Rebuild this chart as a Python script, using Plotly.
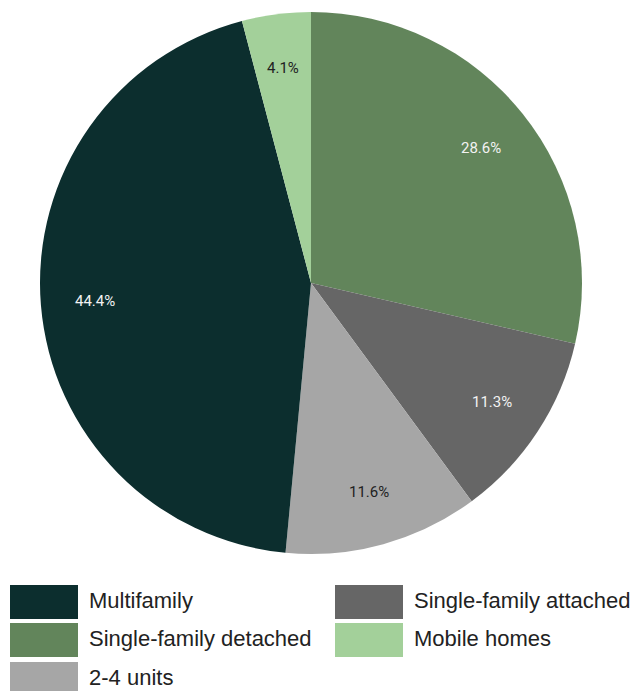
import math
import plotly.graph_objects as go

W, H = 636, 691

categories = ["Single-family detached", "Single-family attached", "2-4 units", "Multifamily", "Mobile homes"]
values = [28.6, 11.3, 11.6, 44.4, 4.1]
colors = ["#62855b", "#666666", "#a6a6a6", "#0c2e2e", "#a3d09a"]
text_colors = ["#f2f2f2", "#f2f2f2", "#222222", "#f2f2f2", "#222222"]

legend_order = ["Multifamily", "Single-family attached", "Single-family detached", "Mobile homes", "2-4 units"]

# pie geometry (pixels)
cx_px, cy_px, rad_px = 311, 283, 271

fig = go.Figure()
fig.add_trace(go.Pie(
    labels=categories,
    values=values,
    sort=False,
    direction="clockwise",
    rotation=0,
    marker=dict(colors=colors, line=dict(width=0)),
    textinfo="none",
    hoverinfo="label+percent",
    showlegend=False,
    domain=dict(x=[(cx_px - rad_px) / W, (cx_px + rad_px) / W],
                y=[1 - (cy_px + rad_px) / H, 1 - (cy_px - rad_px) / H]),
))

annotations = []
# slice labels at mid-angle of each slice
total = sum(values)
cum = 0.0
for v, tc in zip(values, text_colors):
    mid = (cum + v / 2) / total * 2 * math.pi
    cum += v
    r = 0.8 * rad_px
    px = cx_px + r * math.sin(mid)
    py = cy_px - r * math.cos(mid)
    annotations.append(dict(xref="paper", yref="paper", x=px / W, y=1 - py / H,
                            xanchor="center", yanchor="middle", showarrow=False,
                            text=f"{v:.1f}%", font=dict(family="Roboto", size=15, color=tc)))

# custom legend (two columns, row-major)
shapes = []
col_x = [10, 335]
row_y = [585, 623, 662]
box_w, box_h = 68, 34
for i, name in enumerate(legend_order):
    c = colors[categories.index(name)]
    bx = col_x[i % 2]
    ry = row_y[i // 2]
    shapes.append(dict(type="rect", xref="paper", yref="paper",
                       x0=bx / W, x1=(bx + box_w) / W,
                       y0=1 - (ry + box_h) / H, y1=1 - ry / H,
                       fillcolor=c, line=dict(width=0)))
    annotations.append(dict(xref="paper", yref="paper",
                            x=(bx + 77) / W, y=1 - (ry + box_h / 2 - 2) / H,
                            xanchor="left", yanchor="middle", showarrow=False,
                            text=name, font=dict(family="Liberation Sans, Arial", size=22, color="#222222")))

fig.update_layout(
    width=W, height=H,
    margin=dict(l=0, r=0, t=0, b=0),
    paper_bgcolor="white",
    plot_bgcolor="white",
    shapes=shapes,
    annotations=annotations,
)

fig.write_html("out.html")
